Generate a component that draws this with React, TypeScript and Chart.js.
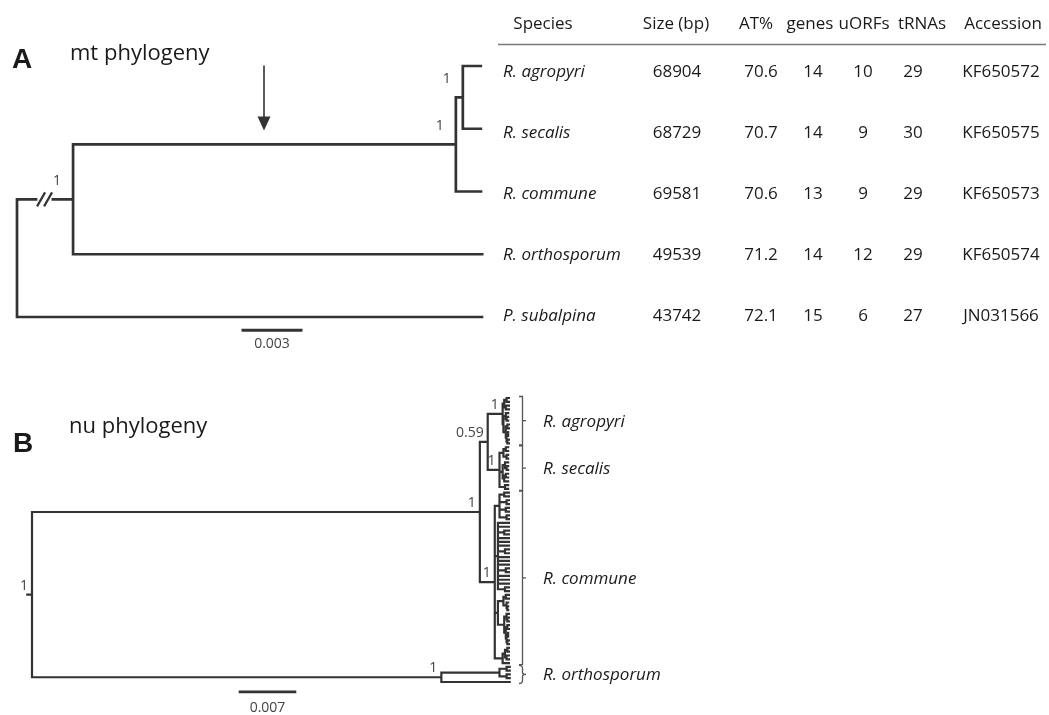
import React, { useEffect, useRef } from "react";
import { Chart, registerables } from "chart.js";

Chart.register(...registerables);

// ---------------- data ----------------
const panelLetters = ["A", "B"];
const panelTitles = ["mt phylogeny", "nu phylogeny"];

// mitochondrial tree (branch lengths in substitutions/site, node labels = posterior support)
const mtNewick =
  "((((R. agropyri:0.00093,R. secalis:0.00093)1:0.00036,R. commune:0.0013)1:0.0198,R. orthosporum:0.02116)1:0.0029,P. subalpina:0.02405);";
const mtArrowClade = ["R. agropyri", "R. secalis", "R. commune"];
const mtBrokenClade = ["R. agropyri", "R. secalis", "R. commune", "R. orthosporum"];
const mtScaleBar = 0.003;

// table
const tableHeader = ["Species", "Size (bp)", "AT%", "genes", "uORFs", "tRNAs", "Accession"];
const tableSpecies = ["R. agropyri", "R. secalis", "R. commune", "R. orthosporum", "P. subalpina"];
const sizeBp = [68904, 68729, 69581, 49539, 43742];
const atPercent = [70.6, 70.7, 70.6, 71.2, 72.1];
const geneCount = [14, 14, 13, 14, 15];
const uorfCount = [10, 9, 9, 12, 6];
const trnaCount = [29, 30, 29, 29, 27];
const accession = ["KF650572", "KF650575", "KF650573", "KF650574", "JN031566"];

// nuclear tree: clades grafted onto a backbone
const nuCladeNames = ["R. agropyri", "R. secalis", "R. commune", "R. orthosporum"];
const nuAgropyri =
  "(((a1:0.0003,a2:0.0003):0.0003,(a3:0.0004,a4:0.0004):0.0002):0.0002,((a5:0.0003,(a6:0.0002,a7:0.0002):0.0001):0.0003,((a8:0.0002,a9:0.0002):0.0002,((a10:0.0001,a11:0.0001):0.0002,(a12:0.0002,a13:0.0002):0.0001):0.0001):0.0003):0.0001)1";
const nuSecalis =
  "(((s1:0.0003,s2:0.0003):0.0003,(s3:0.0002,s4:0.0002):0.0004):0.0005,((s5:0.0004,(s6:0.0002,s7:0.0002):0.0002):0.0003,((s8:0.0003,s9:0.0003):0.0002,s10:0.0005):0.0002):0.0004,(s11:0.0004,s12:0.0004):0.0007)1";
const nuCommuneTop =
  "((c1:0.0006,c2:0.0006):0.0006,(c3:0.0003,c4:0.0003):0.0009,(c5:0.0004,c6:0.0004):0.0008,(c7:0.0003,c8:0.0003):0.0009)";
const nuCommuneMid =
  "(c9:0.0014,c10:0.0014,(c11:0.0006,c12:0.0006):0.0008,c13:0.0014,c14:0.0014,c15:0.0014,(c16:0.0005,c17:0.0005):0.0009,c18:0.0014,c19:0.0014,c20:0.0014,(c21:0.0004,c22:0.0004):0.0010,c23:0.0014,c24:0.0014,c25:0.0014,(c26:0.0005,c27:0.0005):0.0009)";
const nuCommuneLow =
  "(((c28:0.0004,c29:0.0004):0.0003,(c30:0.0002,(c31:0.0001,c32:0.0001):0.0001):0.0004):0.0007,((c33:0.0003,(c34:0.0002,c35:0.0002):0.0001):0.0003,((c36:0.0002,c37:0.0002):0.0002,((c38:0.0001,c39:0.0001):0.0002,(c40:0.0002,c41:0.0002):0.0001):0.0001):0.0002):0.0008)";
const nuCommuneEnd = "(((c42:0.0002,c43:0.0002):0.0003,(c44:0.0003,c45:0.0003):0.0002):0.0003,c46:0.0008)";
const nuCommune =
  "(" + nuCommuneTop + ":0.0006," + nuCommuneMid + ":0.0004," + nuCommuneLow + ":0.0004," + nuCommuneEnd + ":0.0010)1";
const nuOrthosporum = "(((o1:0.0004,o2:0.0004):0.0009,(o3:0.0004,o4:0.0004):0.0009):0.0074,o5:0.0087)1";
const nuBackbone = "(((#0:0.0019,#1:0.0015)0.59:0.0010,#2:0.0019)1:0.0570,#3:0.0521)1:0.0006;";
const nuScaleBar = 0.007;

// ---------------- tree helpers ----------------
type TNode = {
  name: string;
  label: string;
  len: number;
  children: TNode[];
  x: number;
  y: number;
  parent?: TNode;
};

function parseNewick(src: string): TNode {
  const s = src.trim().replace(/;$/, "");
  let i = 0;
  const readToken = (stops: string) => {
    let t = "";
    while (i < s.length && !stops.includes(s[i])) t += s[i++];
    return t.trim();
  };
  const node = (): TNode => {
    const n: TNode = { name: "", label: "", len: 0, children: [], x: 0, y: 0 };
    if (s[i] === "(") {
      i++;
      n.children.push(node());
      while (s[i] === ",") {
        i++;
        n.children.push(node());
      }
      i++;
      n.label = readToken(":,()");
    } else {
      n.name = readToken(":,()");
    }
    if (s[i] === ":") {
      i++;
      n.len = parseFloat(readToken(",()"));
    }
    return n;
  };
  return node();
}

function layoutTree(root: TNode) {
  let leaf = 0;
  const rec = (n: TNode, x: number) => {
    n.x = x;
    if (!n.children.length) {
      n.y = leaf++;
      return;
    }
    n.children.forEach((c) => {
      c.parent = n;
      rec(c, x + c.len);
    });
    n.y = (n.children[0].y + n.children[n.children.length - 1].y) / 2;
  };
  rec(root, 0);
  return leaf;
}

function allNodes(root: TNode): TNode[] {
  const out: TNode[] = [];
  const rec = (n: TNode) => {
    out.push(n);
    n.children.forEach(rec);
  };
  rec(root);
  return out;
}

function leavesOf(n: TNode): TNode[] {
  return allNodes(n).filter((m) => !m.children.length);
}

function mrca(root: TNode, names: string[]): TNode {
  let best = root;
  let bestCount = Infinity;
  allNodes(root).forEach((n) => {
    const ls = leavesOf(n).map((l) => l.name);
    if (names.every((nm) => ls.includes(nm)) && ls.length < bestCount) {
      best = n;
      bestCount = ls.length;
    }
  });
  return best;
}

const BREAK_FROM = 0.34;
const BREAK_TO = 0.64;

function treeSegments(root: TNode, broken?: TNode) {
  const pts: { x: number; y: number | null }[] = [];
  const seg = (x1: number, y1: number, x2: number, y2: number) => {
    pts.push({ x: x1, y: y1 }, { x: x2, y: y2 }, { x: x2, y: null });
  };
  allNodes(root).forEach((n) => {
    if (n.parent) {
      const px = n.parent.x;
      if (n === broken) {
        const L = n.x - px;
        seg(px, n.y, px + L * BREAK_FROM, n.y);
        seg(px + L * BREAK_TO, n.y, n.x, n.y);
      } else {
        seg(px, n.y, n.x, n.y);
      }
    } else if (n.len > 0) {
      seg(n.x - n.len, n.y, n.x, n.y);
    }
    if (n.children.length) {
      seg(n.x, n.children[0].y, n.x, n.children[n.children.length - 1].y);
    }
  });
  return pts;
}

// ---------------- build trees ----------------
const mtTree = parseNewick(mtNewick);
const mtLeafCount = layoutTree(mtTree);
const mtArrowNode = mrca(mtTree, mtArrowClade);
const mtBrokenNode = mrca(mtTree, mtBrokenClade);

const nuCladeRoots = [nuAgropyri, nuSecalis, nuCommune, nuOrthosporum].map(parseNewick);
const nuTree = parseNewick(nuBackbone);
(function graft(n: TNode) {
  n.children = n.children.map((c) => {
    if (c.name.startsWith("#")) {
      const r = nuCladeRoots[parseInt(c.name.slice(1), 10)];
      r.len = c.len;
      return r;
    }
    graft(c);
    return c;
  });
})(nuTree);
const nuLeafCount = layoutTree(nuTree);

// ---------------- layout (pixels) ----------------
const W = 1049;
const H = 715;
const A_ROOT_PX = 17;
const A_PX_PER_UNIT = 58 / 0.003;
const A_FIRST_LEAF_PX = 66;
const A_LEAF_STEP = 62.75;
const T_FIRST_ROW_PX = 71;
const T_ROW_STEP = 61;
const B_ROOT_PX = 32;
const B_PX_PER_UNIT = 55 / 0.007;
const B_FIRST_LEAF_PX = 398;
const B_LEAF_STEP = (682 - 398) / 75;

const INK = "#1a1a1a";
const TREE = "#333333";
const SUPPORT = "#444444";
const FONT = '"Open Sans", "DejaVu Sans", sans-serif';

const mtBarStart = (243 - A_ROOT_PX) / A_PX_PER_UNIT;
const nuBarStart = (240 - B_ROOT_PX) / B_PX_PER_UNIT;
const mtBarRow = mtLeafCount - 1 + 0.21;
const nuBarRow = nuLeafCount - 1 + 2.6;

const overlay = {
  id: "overlay",
  afterDatasetsDraw(chart: any) {
    const { ctx, scales } = chart;
    const xA = scales.xA, yA = scales.yA, xB = scales.xB, yB = scales.yB, yT = scales.yT;
    ctx.save();

    // panel letters and titles
    ctx.fillStyle = INK;
    ctx.textAlign = "left";
    ctx.textBaseline = "alphabetic";
    ctx.font = 'bold 28px "Liberation Sans", Arial, sans-serif';
    ctx.fillText(panelLetters[0], 12, 68);
    ctx.fillText(panelLetters[1], 13, 452);
    ctx.font = "22px " + FONT;
    ctx.fillText(panelTitles[0], 70, 60);
    ctx.fillText(panelTitles[1], 69, 433);

    // support values, tree A
    ctx.fillStyle = SUPPORT;
    ctx.font = "14px " + FONT;
    ctx.textAlign = "center";
    ctx.textBaseline = "middle";
    allNodes(mtTree).forEach((n) => {
      if (n.children.length && n.label) {
        ctx.fillText(n.label, xA.getPixelForValue(n.x) - 16, yA.getPixelForValue(n.y) - 18);
      }
    });
    // support values, tree B
    ctx.textAlign = "right";
    allNodes(nuTree).forEach((n) => {
      if (n.children.length && n.label) {
        ctx.fillText(n.label, xB.getPixelForValue(n.x) - 4, yB.getPixelForValue(n.y) - 9);
      }
    });

    // arrow on mt branch
    {
      const p = mtArrowNode.parent!;
      const ax = Math.round((xA.getPixelForValue(p.x) + xA.getPixelForValue(mtArrowNode.x)) / 2);
      const ay = yA.getPixelForValue(mtArrowNode.y);
      ctx.strokeStyle = TREE;
      ctx.fillStyle = TREE;
      ctx.lineWidth = 1.6;
      ctx.beginPath();
      ctx.moveTo(ax, ay - 79);
      ctx.lineTo(ax, ay - 26);
      ctx.stroke();
      ctx.beginPath();
      ctx.moveTo(ax - 6.5, ay - 28);
      ctx.lineTo(ax + 6.5, ay - 28);
      ctx.lineTo(ax, ay - 14);
      ctx.closePath();
      ctx.fill();
    }

    // break marks on root branch
    {
      const p = mtBrokenNode.parent!;
      const x0 = xA.getPixelForValue(p.x);
      const x1 = xA.getPixelForValue(mtBrokenNode.x);
      const gx = x0 + (x1 - x0) * BREAK_FROM;
      const by = yA.getPixelForValue(mtBrokenNode.y);
      ctx.strokeStyle = TREE;
      ctx.lineWidth = 2.2;
      ctx.beginPath();
      ctx.moveTo(gx + 1, by + 7);
      ctx.lineTo(gx + 9, by - 7);
      ctx.moveTo(gx + 8, by + 7);
      ctx.lineTo(gx + 16, by - 7);
      ctx.stroke();
    }

    // scale bar labels
    ctx.fillStyle = SUPPORT;
    ctx.font = "14px " + FONT;
    ctx.textAlign = "center";
    ctx.textBaseline = "alphabetic";
    ctx.fillText(
      mtScaleBar.toFixed(3),
      (xA.getPixelForValue(mtBarStart) + xA.getPixelForValue(mtBarStart + mtScaleBar)) / 2,
      yA.getPixelForValue(mtBarRow) + 18
    );
    ctx.fillText(
      nuScaleBar.toFixed(3),
      (xB.getPixelForValue(nuBarStart) + xB.getPixelForValue(nuBarStart + nuScaleBar)) / 2,
      yB.getPixelForValue(nuBarRow) + 20
    );

    // table
    ctx.fillStyle = INK;
    ctx.font = "17px " + FONT;
    const headerX = [543, 676, 756, 810, 864, 922, 1003];
    ctx.textAlign = "center";
    tableHeader.forEach((h, i) => ctx.fillText(h, headerX[i], 29));
    ctx.strokeStyle = "#7a7a7a";
    ctx.lineWidth = 1.5;
    ctx.beginPath();
    ctx.moveTo(498, 44.5);
    ctx.lineTo(1046, 44.5);
    ctx.stroke();
    const colX = [503, 677, 761, 813, 863, 913, 1001];
    tableSpecies.forEach((sp, r) => {
      const by = yT.getPixelForValue(r) + 6;
      ctx.font = "italic 17px " + FONT;
      ctx.textAlign = "left";
      ctx.fillText(sp, colX[0], by);
      ctx.font = "17px " + FONT;
      ctx.textAlign = "center";
      const cells = [
        String(sizeBp[r]),
        atPercent[r].toFixed(1),
        String(geneCount[r]),
        String(uorfCount[r]),
        String(trnaCount[r]),
        accession[r],
      ];
      cells.forEach((c, k) => ctx.fillText(c, colX[k + 1], by));
    });

    // clade brackets and names (tree B)
    ctx.strokeStyle = "#555555";
    ctx.lineWidth = 1.3;
    nuCladeRoots.forEach((cr, k) => {
      const ls = leavesOf(cr);
      const top = yB.getPixelForValue(ls[0].y) - 1.5;
      const bot = yB.getPixelForValue(ls[ls.length - 1].y) + 1.5;
      const mid = (top + bot) / 2;
      const bx = 522.5;
      ctx.beginPath();
      if (k === nuCladeRoots.length - 1) {
        ctx.moveTo(519, top);
        ctx.quadraticCurveTo(522.5, top, 522.5, top + 3);
        ctx.lineTo(522.5, mid - 2);
        ctx.quadraticCurveTo(522.5, mid, 526, mid);
        ctx.quadraticCurveTo(522.5, mid, 522.5, mid + 2);
        ctx.lineTo(522.5, bot - 3);
        ctx.quadraticCurveTo(522.5, bot, 519, bot);
      } else {
        ctx.moveTo(519, top);
        ctx.lineTo(bx, top);
        ctx.lineTo(bx, bot);
        ctx.lineTo(519, bot);
        ctx.moveTo(bx, mid);
        ctx.lineTo(526, mid);
      }
      ctx.stroke();
      ctx.fillStyle = INK;
      ctx.font = "italic 17px " + FONT;
      ctx.textAlign = "left";
      ctx.textBaseline = "alphabetic";
      ctx.fillText(nuCladeNames[k], 543, mid + 6);
    });

    ctx.restore();
  },
};

export default function App() {
  const ref = useRef<HTMLCanvasElement>(null);
  useEffect(() => {
    if (!ref.current) return;
    const lineDs = (data: any[], xId: string, yId: string, width: number) => ({
      data,
      xAxisID: xId,
      yAxisID: yId,
      borderColor: TREE,
      borderWidth: width,
      borderCapStyle: "square" as const,
      borderJoinStyle: "miter" as const,
      pointRadius: 0,
      pointHoverRadius: 0,
      spanGaps: false,
      tension: 0,
      fill: false,
    });
    const chart = new Chart(ref.current, {
      type: "line",
      data: {
        datasets: [
          lineDs(treeSegments(mtTree, mtBrokenNode), "xA", "yA", 2.7),
          lineDs(treeSegments(nuTree), "xB", "yB", 2.2),
          lineDs(
            [
              { x: mtBarStart, y: mtBarRow },
              { x: mtBarStart + mtScaleBar, y: mtBarRow },
            ],
            "xA",
            "yA",
            3
          ),
          lineDs(
            [
              { x: nuBarStart, y: nuBarRow },
              { x: nuBarStart + nuScaleBar, y: nuBarRow },
            ],
            "xB",
            "yB",
            2.6
          ),
        ] as any,
      },
      options: {
        responsive: false,
        animation: false,
        devicePixelRatio: 1,
        events: [],
        layout: { padding: 0 },
        plugins: { legend: { display: false }, tooltip: { enabled: false }, title: { display: false } },
        scales: {
          xA: { type: "linear", axis: "x", display: false, min: -A_ROOT_PX / A_PX_PER_UNIT, max: (W - A_ROOT_PX) / A_PX_PER_UNIT },
          yA: {
            type: "linear",
            axis: "y",
            display: false,
            reverse: true,
            min: -A_FIRST_LEAF_PX / A_LEAF_STEP,
            max: (H - A_FIRST_LEAF_PX) / A_LEAF_STEP,
          },
          yT: {
            type: "linear",
            axis: "y",
            display: false,
            reverse: true,
            min: -T_FIRST_ROW_PX / T_ROW_STEP,
            max: (H - T_FIRST_ROW_PX) / T_ROW_STEP,
          },
          xB: { type: "linear", axis: "x", display: false, min: -B_ROOT_PX / B_PX_PER_UNIT, max: (W - B_ROOT_PX) / B_PX_PER_UNIT },
          yB: {
            type: "linear",
            axis: "y",
            display: false,
            reverse: true,
            min: -B_FIRST_LEAF_PX / B_LEAF_STEP,
            max: (H - B_FIRST_LEAF_PX) / B_LEAF_STEP,
          },
        } as any,
      },
      plugins: [overlay],
    });
    return () => chart.destroy();
  }, []);
  return (
    <div style={{ position: "absolute", left: 0, top: 0, width: W, height: H, background: "#fff" }}>
      <canvas ref={ref} width={W} height={H} style={{ display: "block" }} />
    </div>
  );
}
